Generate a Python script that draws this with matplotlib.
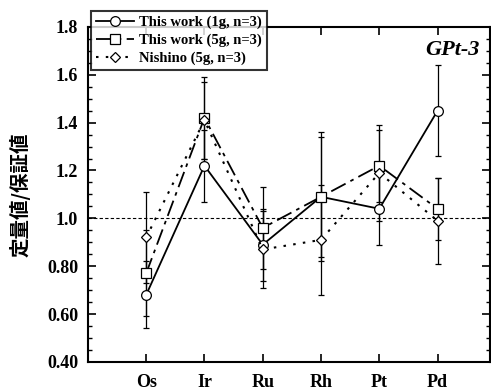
import matplotlib.pyplot as plt
from matplotlib.lines import Line2D
from matplotlib.ticker import MultipleLocator

elements = ['Os', 'Ir', 'Ru', 'Rh', 'Pt', 'Pd']

# ratio of determined to certified value, mean and SD (n=3)
work_1g = [0.68, 1.22, 0.89, 1.09, 1.04, 1.45]
work_1g_sd = [0.14, 0.15, 0.15, 0.25, 0.15, 0.19]
work_5g = [0.77, 1.42, 0.96, 1.09, 1.22, 1.04]
work_5g_sd = [0.18, 0.17, 0.17, 0.27, 0.15, 0.13]
nishino = [0.92, 1.41, 0.87, 0.91, 1.19, 0.99]
nishino_sd = [0.19, 0.16, 0.16, 0.23, 0.20, 0.18]

labels = ['This work (1g, n=3)', 'This work (5g, n=3)', 'Nishino (5g, n=3)']

plt.rcParams['font.family'] = ['Liberation Serif', 'Noto Sans CJK JP']
plt.rcParams['font.weight'] = 'bold'

fig = plt.figure(figsize=(4.91, 3.9), dpi=100)
ax = fig.add_axes([0.179, 0.072, 0.819, 0.859])

x = list(range(1, len(elements) + 1))

styles = [
    dict(marker='o', ls='-', lw=1.3, ms=7),
    dict(marker='s', ls=(0, (9, 3, 2, 3)), lw=1.3, ms=7),
    dict(marker='D', ls=(0, (1.2, 3.5)), lw=1.5, ms=5.5),
]
series = [(work_1g, work_1g_sd), (work_5g, work_5g_sd), (nishino, nishino_sd)]

handles = []
for (y, err), st, lab in zip(series, styles, labels):
    ax.errorbar(x, y, yerr=err, color='black', mfc='white', mec='black', mew=0.9,
                ecolor='black', elinewidth=0.9, capsize=2.5, capthick=0.9, **st)
    handles.append(Line2D([], [], color='black', mfc='white', mec='black',
                          mew=0.9, **st))

ax.axhline(1.0, color='black', lw=0.8, ls=(0, (3, 2)), zorder=0)

ax.set_xlim(0, 6.9)
ax.set_ylim(0.4, 1.8)
ax.set_xticks(x)
ax.set_xticklabels(elements, fontsize=13, fontweight='bold')
ax.set_yticks([0.4, 0.6, 0.8, 1.0, 1.2, 1.4, 1.6, 1.8])
ax.set_yticklabels(['0.40', '0.60', '0.80', '1.0', '1.2', '1.4', '1.6', '1.8'],
                   fontsize=13, fontweight='bold')
ax.yaxis.set_minor_locator(MultipleLocator(0.05))
ax.tick_params(axis='both', which='both', direction='in', top=True, right=True)
ax.tick_params(axis='both', which='major', length=6, width=1.2)
ax.tick_params(axis='y', which='minor', length=3, width=1)
ax.tick_params(axis='x', pad=9)
ax.tick_params(axis='y', pad=7)
for s in ax.spines.values():
    s.set_linewidth(1.5)

ax.set_ylabel('定量値/保証値', fontsize=14, fontweight='bold',
              family=['Noto Sans CJK JP'], labelpad=12)

ax.text(0.975, 0.93, 'GPt-3', transform=ax.transAxes, ha='right', va='center',
        fontsize=16, fontweight='bold', style='italic')

leg = ax.legend(handles, labels, loc='upper left', bbox_to_anchor=(0.186, 0.973),
                bbox_transform=fig.transFigure, fontsize=10.5, frameon=True,
                fancybox=False, handlelength=2.6, handletextpad=0.3,
                borderpad=0.35, labelspacing=0.3, borderaxespad=0)
leg.get_frame().set_edgecolor('black')
leg.get_frame().set_linewidth(1.5)
leg.set_zorder(5)

fig.savefig('out.png', dpi=100)
